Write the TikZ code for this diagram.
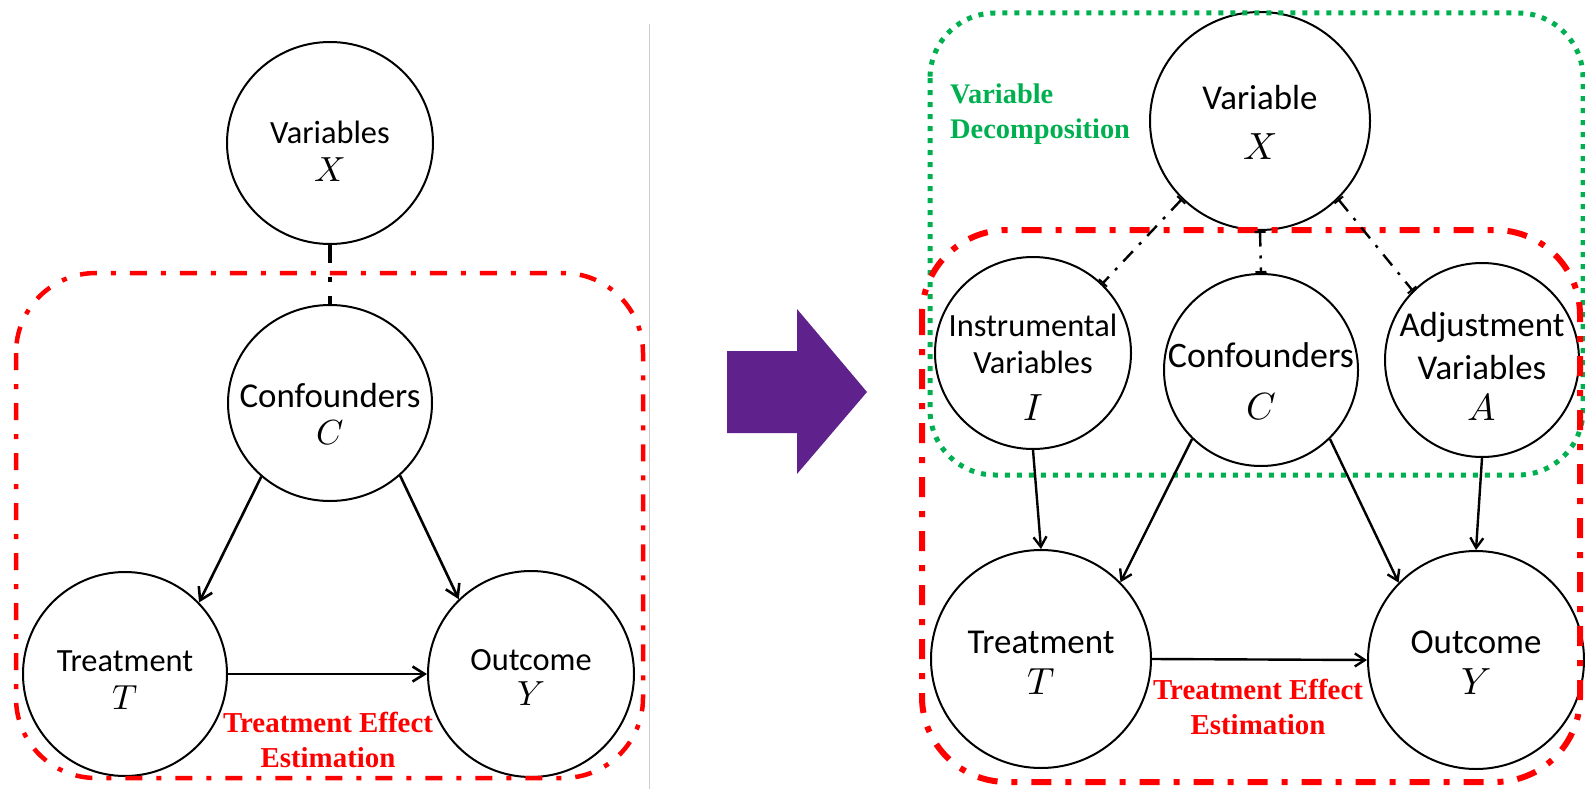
\documentclass[tikz,border=0pt]{standalone}
\usepackage{fontspec}
\usepackage{unicode-math}
\setmainfont{Carlito}
\setmathfont{Latin Modern Math}
\newfontfamily\lblfont{Liberation Serif}
\usetikzlibrary{arrows.meta,shapes.geometric}

\definecolor{boxred}{RGB}{255,0,0}
\definecolor{boxgreen}{RGB}{0,176,80}
\definecolor{arrowpurple}{RGB}{95,33,140}
\definecolor{divider}{RGB}{205,205,205}

\newcommand{\pxsize}[1]{\fontsize{#1}{#1}\selectfont}

\begin{document}
\begin{tikzpicture}[x=1bp, y=-1bp,
  ell/.style 2 args={ellipse, draw=black, line width=2bp, inner sep=0pt,
    minimum width=#1*2bp, minimum height=#2*2bp},
  ltxt/.style={font=\pxsize{32.5}, inner sep=0pt},
  rtxt/.style={font=\pxsize{35}, inner sep=0pt},
  itxt/.style={font=\pxsize{32.5}, inner sep=0pt},
  lmath/.style={font=\pxsize{35}, inner sep=0pt},
  rmath/.style={font=\pxsize{38}, inner sep=0pt},
  larrow/.style={line width=2.6bp, -{Straight Barb[length=12bp,width=15bp,line width=2.6bp]}},
  rarrow/.style={line width=2.4bp, -{Straight Barb[length=10bp,width=13bp,line width=2.4bp]}},
  thickdd/.style={line width=4bp, dash pattern=on 18bp off 14bp on 5bp off 14bp},
  thindd/.style={line width=2.4bp, dash pattern=on 14bp off 9bp on 3bp off 9bp,
    {Bar[width=11bp,line width=2bp]}-{Bar[width=11bp,line width=2bp]}},
  redL/.style={draw=boxred, line width=4.5bp, rounded corners=80bp,
    dash pattern=on 17bp off 14bp on 5bp off 14bp},
  redR/.style={draw=boxred, line width=6bp, rounded corners=85bp,
    dash pattern=on 20bp off 14bp on 6bp off 14bp},
  greenbox/.style={draw=boxgreen, line width=5bp, rounded corners=65bp,
    dash pattern=on 5bp off 7bp},
  redlbl/.style={text=boxred, font=\lblfont\bfseries\fontsize{29}{35}\selectfont,
    align=center, inner sep=0pt},
  greenlbl/.style={text=boxgreen, font=\lblfont\bfseries\fontsize{28.5}{35}\selectfont,
    align=left, inner sep=0pt}
]
\useasboundingbox (0,0) rectangle (1585,789);

% ---------- left: classical causal graph ----------
\node[ell={103}{101},
  label={[ltxt,yshift=11]center:Variables},
  label={[lmath,yshift=-27]center:$X$}] (lX) at (330,143) {};
\node[ell={102}{98},
  label={[ltxt,yshift=8,font=\pxsize{35}]center:Confounders},
  label={[lmath,yshift=-30]center:$C$}] (lC) at (330,403) {};
\node[ell={102}{102},
  label={[ltxt,yshift=13]center:Treatment},
  label={[lmath,yshift=-24]center:$T$}] (lT) at (125,674) {};
\node[ell={103}{103},
  label={[ltxt,yshift=14]center:Outcome},
  label={[lmath,yshift=-20]center:$Y$}] (lY) at (531,674) {};

\draw[redL] (16,273) rectangle (643,778);
\node[redlbl] (lEst) at (328,740) {Treatment Effect\\Estimation};

\draw[thickdd] (lX.south) -- (lC.north);
\draw[larrow] (lC.227) -- (lT.44);
\draw[larrow] (lC.314) -- (lY.134);
\draw[larrow] (lT.east) -- (lY.west);

% ---------- divider and transition arrow ----------
\draw[divider, line width=1bp] (649,24) -- (649,789);
\fill[arrowpurple] (727,351) -- (797,351) -- (797,309) -- (867,392)
  -- (797,474) -- (797,433) -- (727,433) -- cycle;

% ---------- right: decomposed causal graph ----------
\node[ell={110}{109},
  label={[rtxt,yshift=24]center:Variable},
  label={[rmath,yshift=-26]center:$X$}] (rX) at (1260,121) {};
\node[ell={98}{96},
  label={[itxt,yshift=28]center:Instrumental},
  label={[itxt,yshift=-9]center:Variables},
  label={[rmath,yshift=-55]center:$I$}] (rI) at (1033,353) {};
\node[ell={97}{96},
  label={[rtxt,yshift=15,font=\pxsize{36}]center:Confounders},
  label={[rmath,yshift=-37]center:$C$}] (rC) at (1261,370) {};
\node[ell={97}{97},
  label={[rtxt,yshift=33]center:Adjustment},
  label={[rtxt,yshift=-8]center:Variables},
  label={[rmath,yshift=-47]center:$A$}] (rA) at (1482,360) {};
\node[ell={110}{109},
  label={[rtxt,yshift=17]center:Treatment},
  label={[rmath,yshift=-23]center:$T$}] (rT) at (1041,659) {};
\node[ell={108}{109},
  label={[rtxt,yshift=18]center:Outcome},
  label={[rmath,yshift=-22]center:$Y$}] (rY) at (1476,660) {};

\draw[greenbox] (930,13) rectangle (1583,475);
\draw[redR] (922,230) rectangle (1580,782);
\node[greenlbl, anchor=west] (rDec) at (950,114) {Variable\\Decomposition};
\node[redlbl] (rEst) at (1258,707) {Treatment Effect\\Estimation};

\draw[thindd] (rX.225) -- (rI.45);
\draw[thindd] (rX.south) -- (rC.north);
\draw[thindd] (rX.315) -- (rA.135);
\draw[rarrow] (rI.south) -- (rT.north);
\draw[rarrow] (rC.225) -- (rT.44);
\draw[rarrow] (rC.315) -- (rY.135);
\draw[rarrow] (rA.south) -- (rY.north);
\draw[rarrow] (rT.east) -- (rY.west);
\end{tikzpicture}
\end{document}
